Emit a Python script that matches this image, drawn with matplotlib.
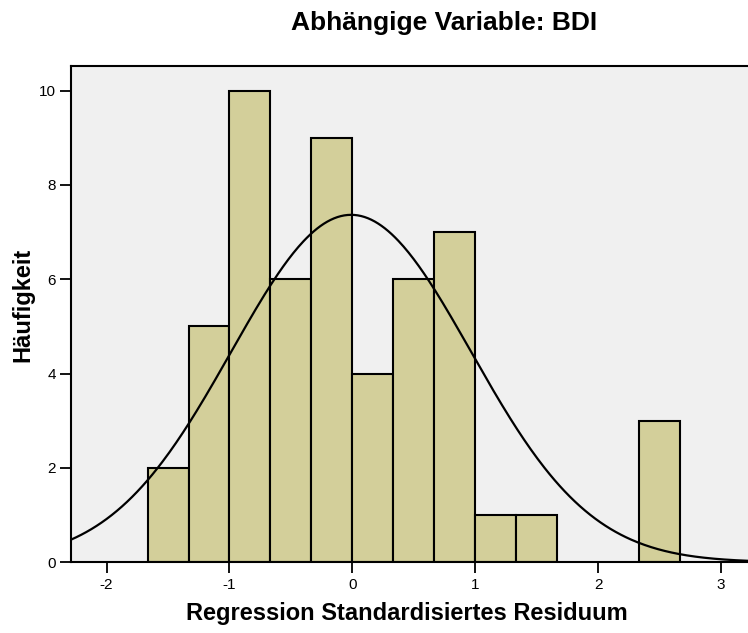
import numpy as np
import matplotlib
matplotlib.use("Agg")
import matplotlib.pyplot as plt

plt.rcParams['font.family'] = ['Liberation Sans', 'DejaVu Sans']
plt.rcParams['axes.unicode_minus'] = False

# histogram bins (width 1/3) and counts of standardized residuals
bin_left = [-5/3, -4/3, -1.0, -2/3, -1/3, 0.0, 1/3, 2/3, 1.0, 4/3, 7/3]
counts = [2, 5, 10, 6, 9, 4, 6, 7, 1, 1, 3]
bin_width = 1/3

# normal curve parameters
mean = -0.01
std_dev = 0.975
n_total = sum(counts)

x_ticks = [-2, -1, 0, 1, 2, 3]
y_ticks = [0, 2, 4, 6, 8, 10]

fig = plt.figure(figsize=(7.48, 6.33), dpi=100)
ax = fig.add_axes([0.0949, 0.1118, 0.9051, 0.7839])
ax.set_facecolor('#f0f0f0')

ax.bar(bin_left, counts, width=bin_width, align='edge',
       color='#d3cf9a', edgecolor='black', linewidth=1.5, zorder=2)

xs = np.linspace(-2.29, 3.22, 400)
ys = n_total * bin_width / (std_dev * np.sqrt(2 * np.pi)) * np.exp(-(xs - mean) ** 2 / (2 * std_dev ** 2))
ax.plot(xs, ys, color='black', linewidth=1.6, zorder=3)

ax.set_xlim(-2.29, 3.22)
ax.set_ylim(0, 10.52)
ax.set_xticks(x_ticks)
ax.set_yticks(y_ticks)
ax.tick_params(axis='both', length=8, width=1.3, labelsize=11, pad=3)

for side in ['left', 'top', 'bottom']:
    ax.spines[side].set_linewidth(1.5)
ax.spines['right'].set_visible(False)

fig.text(0.5936, 0.963, 'Abhängige Variable: BDI', ha='center', va='center',
         fontsize=19, fontweight='bold')
fig.text(0.544, 0.031, 'Regression Standardisiertes Residuum', ha='center', va='center',
         fontsize=17, fontweight='bold')
fig.text(0.031, 0.518, 'Häufigkeit', ha='center', va='center', rotation=90,
         fontsize=17, fontweight='bold')

fig.savefig('out.png', dpi=100)
